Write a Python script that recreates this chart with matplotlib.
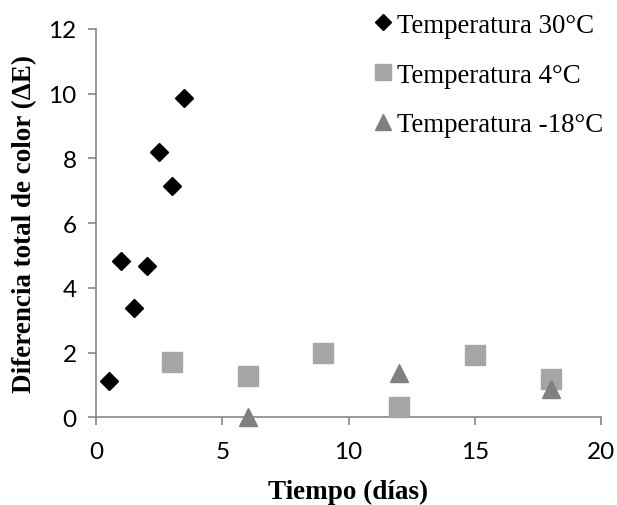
import matplotlib
matplotlib.use("Agg")
import matplotlib.pyplot as plt
from matplotlib.lines import Line2D

# Data
x_30 = [0.5, 1.0, 1.5, 2.0, 2.5, 3.0, 3.5]
y_30 = [1.13, 4.82, 3.38, 4.69, 8.21, 7.15, 9.87]
x_4 = [3, 6, 9, 12, 15, 18]
y_4 = [1.70, 1.27, 1.98, 0.31, 1.92, 1.18]
x_m18 = [6, 12, 18]
y_m18 = [0.0, 1.36, 0.87]
labels = ["Temperatura 30°C", "Temperatura 4°C", "Temperatura -18°C"]
xticks = [0, 5, 10, 15, 20]
yticks = [0, 2, 4, 6, 8, 10, 12]

c30, c4, cm18 = "#000000", "#A5A5A5", "#808080"
spine_c = "#868686"

fig = plt.figure(figsize=(6.17, 5.06), dpi=100)
ax = fig.add_axes([96/617, 1-418.3/506, (601-96)/617, (418.3-30)/506])

ax.plot(x_4, y_4, linestyle="none", marker="s", ms=13.7, color=c4, mec=c4, clip_on=False, zorder=3)
ax.plot(x_m18, y_m18, linestyle="none", marker="^", ms=13.5, color=cm18, mec=cm18, clip_on=False, zorder=4)
ax.plot(x_30, y_30, linestyle="none", marker="D", ms=9.3, color=c30, mec=c30, clip_on=False, zorder=5)

ax.set_xlim(0, 20)
ax.set_ylim(0, 12)
ax.set_xticks(xticks)
ax.set_yticks(yticks)
for s in ["top", "right"]:
    ax.spines[s].set_visible(False)
for s in ["left", "bottom"]:
    ax.spines[s].set_color(spine_c)
    ax.spines[s].set_linewidth(1.2)
ax.tick_params(axis="both", direction="out", length=6, width=1.2, color=spine_c,
               labelsize=17.5, labelcolor="#000000")
ax.tick_params(axis="y", pad=8)
ax.tick_params(axis="x", pad=11)
for lab in ax.get_xticklabels() + ax.get_yticklabels():
    lab.set_family("Lato")

ax.set_xlabel("Tiempo (días)", family="Liberation Serif", fontweight="bold", fontsize=19.5, va="center")
ax.xaxis.set_label_coords(0.5, (418.3-492)/388.3)
ax.set_ylabel("Diferencia total de color (ΔE)", family="Liberation Serif", fontweight="bold", fontsize=19.5, va="center")
ax.yaxis.set_label_coords((25-96)/505, (418.3-224)/388.3)

handles = [
    Line2D([], [], linestyle="none", marker="D", ms=8, color=c30),
    Line2D([], [], linestyle="none", marker="s", ms=11.5, color=c4),
    Line2D([], [], linestyle="none", marker="^", ms=12, color=cm18),
]
leg = fig.legend(handles, labels, loc="upper left", bbox_to_anchor=(363/617, 1-3/506),
                 frameon=False, prop={"family": "Liberation Serif", "size": 19.4},
                 handlelength=0.7, handletextpad=0.15, labelspacing=0.92, borderaxespad=0)

fig.savefig("out.png", dpi=100)
